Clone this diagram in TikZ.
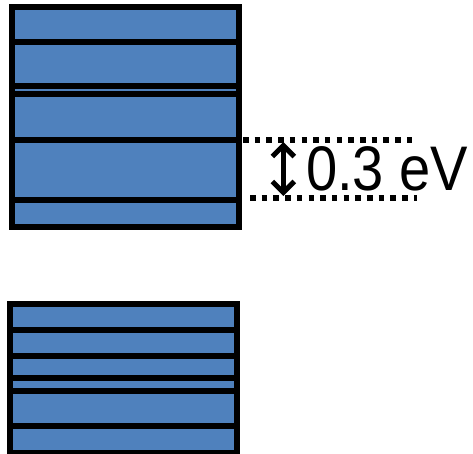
\documentclass[tikz,border=0pt]{standalone}
\usepackage{fontspec}
\setmainfont{Liberation Sans}
\usetikzlibrary{arrows.meta}
\definecolor{bandblue}{RGB}{79,129,189}
\begin{document}
\begin{tikzpicture}[x=1pt,y=-1pt,
  bandbox/.style={draw=black,fill=bandblue,line width=6pt},
  level/.style={draw=black,line width=6pt},
  dotline/.style={draw=black,line width=5.5pt,dash pattern=on 5.5pt off 6.2pt},
  gaparrow/.style={draw=black,line width=5pt,{Straight Barb[length=11pt,width=22pt]}-{Straight Barb[length=11pt,width=22pt]}}]
\useasboundingbox (0,0) rectangle (473,453);
% upper stack of bands
\path[bandbox] (12,7.2) rectangle (238.5,227.3);
\foreach \yy in {42,85.5,93.8,139.5,200.2}
  \draw[level] (12,\yy) -- (238.5,\yy);
% lower stack of bands
\path[bandbox] (10,303.5) rectangle (236.7,452.5);
\foreach \yy in {329.7,356,378,391,425.7}
  \draw[level] (10,\yy) -- (236.7,\yy);
% gap markers
\coordinate (t0) at (243,140);
\coordinate (t1) at (412,140);
\coordinate (b0) at (250,198);
\coordinate (b1) at (417,198);
\draw[dotline] (t0) -- (t1);
\draw[dotline] (b0) -- (b1);
\coordinate (aT) at (283.3,142);
\coordinate (aB) at (283.3,196);
\draw[gaparrow] (aT) -- (aB);
\node[anchor=base west,inner sep=0pt,font=\fontsize{63}{63}\selectfont,xscale=0.89] (gap) at (306,190) {0.3 eV};
\end{tikzpicture}
\end{document}
